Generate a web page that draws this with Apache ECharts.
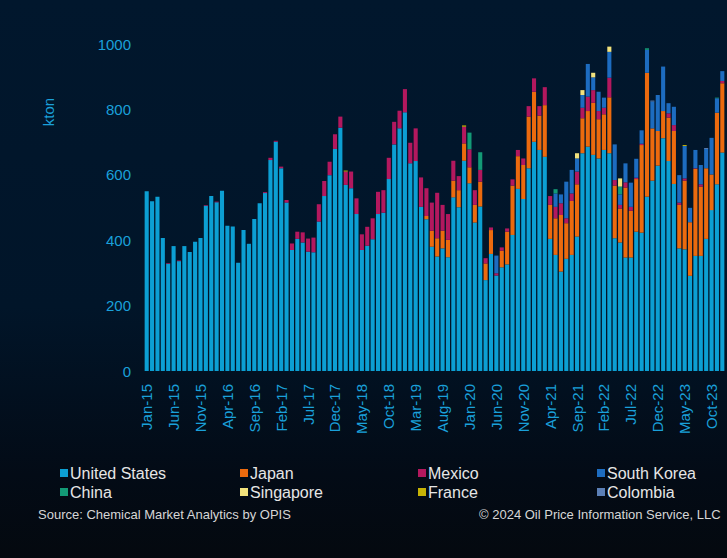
<!DOCTYPE html>
<html lang="en">
<head>
	<meta charset="UTF-8">
	<title>Imports by origin</title>
	<script type="text/javascript" src="https://cdn.jsdelivr.net/npm/echarts@6/dist/echarts.min.js"></script>
	<style>
		html, body { margin: 0; padding: 0; }
		body { width: 727px; height: 558px; overflow: hidden;
			background: linear-gradient(180deg, #01172d 0%, #011529 55%, #030b16 85%, #04090f 100%); }
		#chart_show { width: 727px; height: 558px; }
	</style>
</head>
<body>
	<div id="chart_show"></div>
	<script>
		// monthly categories Jan-15 .. Dec-23
		var months = [
			'Jan-15','Feb-15','Mar-15','Apr-15','May-15','Jun-15','Jul-15','Aug-15','Sep-15','Oct-15','Nov-15','Dec-15',
			'Jan-16','Feb-16','Mar-16','Apr-16','May-16','Jun-16','Jul-16','Aug-16','Sep-16','Oct-16','Nov-16','Dec-16',
			'Jan-17','Feb-17','Mar-17','Apr-17','May-17','Jun-17','Jul-17','Aug-17','Sep-17','Oct-17','Nov-17','Dec-17',
			'Jan-18','Feb-18','Mar-18','Apr-18','May-18','Jun-18','Jul-18','Aug-18','Sep-18','Oct-18','Nov-18','Dec-18',
			'Jan-19','Feb-19','Mar-19','Apr-19','May-19','Jun-19','Jul-19','Aug-19','Sep-19','Oct-19','Nov-19','Dec-19',
			'Jan-20','Feb-20','Mar-20','Apr-20','May-20','Jun-20','Jul-20','Aug-20','Sep-20','Oct-20','Nov-20','Dec-20',
			'Jan-21','Feb-21','Mar-21','Apr-21','May-21','Jun-21','Jul-21','Aug-21','Sep-21','Oct-21','Nov-21','Dec-21',
			'Jan-22','Feb-22','Mar-22','Apr-22','May-22','Jun-22','Jul-22','Aug-22','Sep-22','Oct-22','Nov-22','Dec-22',
			'Jan-23','Feb-23','Mar-23','Apr-23','May-23','Jun-23','Jul-23','Aug-23','Sep-23','Oct-23','Nov-23','Dec-23'
		];

		var unitedStates = [
			550,519,533,407,328,382,336,382,364,395,407,505,
			535,516,551,444,442,331,431,389,465,513,544,645,
			701,620,515,370,404,393,365,363,457,535,599,679,
			744,569,559,480,370,383,403,480,484,587,693,742,
			791,635,642,502,464,380,350,375,348,531,501,643,
			574,454,503,278,358,292,317,326,416,557,526,620,
			701,676,655,404,355,304,343,355,411,666,686,661,
			650,676,666,406,393,347,347,426,423,533,582,628,
			712,642,572,375,372,291,352,352,404,492,571,668
		];
		var japan = [
			0,0,0,0,0,0,0,0,0,0,0,0,
			0,0,0,0,0,0,0,0,0,0,0,0,
			0,0,0,0,0,0,0,0,0,0,0,0,
			0,0,0,0,0,0,0,0,0,0,0,0,
			0,0,0,0,10,49,56,54,53,51,52,53,
			49,54,76,51,73,0,51,100,151,100,104,158,
			153,105,158,104,112,173,109,165,160,107,109,159,
			120,109,171,161,104,214,143,161,268,379,160,106,
			83,133,162,133,210,164,266,212,216,109,219,212
		];
		var mexico = [
			0,0,0,0,2,0,2,0,0,0,0,2,
			0,2,0,0,0,0,0,0,0,0,3,7,
			3,5,8,20,22,31,40,45,53,46,41,45,
			34,41,51,48,48,58,64,68,69,65,69,54,
			71,63,100,90,85,86,139,79,79,61,43,51,
			55,45,36,16,8,7,10,10,19,19,20,32,
			41,29,55,27,35,36,15,23,39,32,44,39,
			25,20,60,17,11,16,12,4,4,0,0,0,
			0,13,18,7,7,0,2,7,0,0,0,7
		];
		var southKorea = [
			0,0,0,0,0,0,0,0,0,0,0,0,
			0,0,0,0,0,0,0,0,0,0,0,0,
			0,0,0,0,0,0,0,0,0,0,0,0,
			0,0,0,0,0,0,0,0,0,0,0,0,
			0,0,0,0,0,0,0,0,0,0,0,0,
			0,0,0,0,0,54,0,0,0,0,0,0,
			0,0,0,0,41,27,112,72,40,39,100,39,
			59,31,79,109,32,58,74,58,41,70,82,110,
			136,31,56,84,99,44,56,59,59,112,44,30
		];
		var china = [
			0,0,0,0,0,0,0,0,0,0,0,0,
			0,0,0,0,0,0,0,0,0,0,0,0,
			0,0,0,0,0,0,0,0,0,0,0,0,
			0,0,0,0,0,0,0,0,0,0,0,0,
			0,0,0,0,0,0,0,0,0,0,0,0,
			51,0,54,0,0,0,0,0,0,0,0,0,
			0,0,0,0,13,0,0,0,0,0,0,0,
			0,0,0,0,24,0,0,0,0,5,0,0,
			0,0,0,0,0,0,0,0,0,0,2,0
		];
		var singapore = [
			0,0,0,0,0,0,0,0,0,0,0,0,
			0,0,0,0,0,0,0,0,0,0,0,0,
			0,0,0,0,0,0,0,0,0,0,0,0,
			0,0,0,0,0,0,0,0,0,0,0,0,
			0,0,0,0,0,0,0,0,0,0,0,0,
			0,0,0,0,0,0,0,0,0,0,0,0,
			0,0,0,0,0,0,0,0,16,15,0,14,
			0,0,16,0,25,0,0,0,0,0,0,0,
			0,0,0,0,0,0,0,0,0,0,0,0
		];
		var france = [
			0,0,0,0,0,0,0,0,0,0,0,0,
			0,0,0,0,0,0,0,0,0,0,0,0,
			0,0,0,0,0,0,0,0,0,0,0,0,
			0,3,0,0,0,0,0,0,0,0,0,0,
			0,0,0,0,0,0,0,0,0,0,0,4,
			0,0,0,0,0,0,0,0,0,0,0,0,
			0,0,0,0,0,0,0,0,0,0,0,0,
			0,0,0,0,0,0,0,0,0,0,0,0,
			0,0,0,0,3,0,0,0,0,0,0,0
		];
		var colombia = [
			0,0,0,0,0,0,0,0,0,0,0,0,
			0,0,0,0,0,0,0,0,0,0,0,0,
			0,0,0,0,0,0,0,0,0,0,0,0,
			0,0,0,0,0,0,0,0,0,0,0,0,
			0,0,0,0,0,0,0,0,0,0,0,0,
			0,0,0,0,0,0,0,0,0,0,0,0,
			0,0,0,0,0,0,0,0,0,0,0,0,
			0,0,0,0,0,0,0,0,0,0,3,0,
			0,0,0,0,0,0,0,0,3,0,0,0
		];

		var yTicks = [0, 200, 400, 600, 800, 1000];

		var countryNames = ['United States','Japan','Mexico','South Korea','China','Singapore','France','Colombia'];
		var countryData = [unitedStates, japan, mexico, southKorea, china, singapore, france, colombia];
		var countryColors = ['#0c9fd3','#ec6a0e','#b3185e','#1d6cc0','#139a76','#f2e27c','#c6b305','#5b7fb6'];

		var cyan = '#1aa0da';
		var font = 'Liberation Sans, Arial, sans-serif';

		var oChart = echarts.init(document.getElementById('chart_show'), null, {renderer: 'svg'});

		var series = [];
		for (var i = 0; i < countryNames.length; i++) {
			series.push({
				name: countryNames[i],
				type: 'bar',
				stack: 'total',
				barCategoryGap: '24%',
				itemStyle: {color: countryColors[i]},
				data: countryData[i]
			});
		}

		function legendCol(left, names) {
			return {
				orient: 'vertical',
				left: left,
				top: 460,
				itemWidth: 8,
				itemHeight: 8,
				itemGap: 3,
				icon: 'rect',
				data: names,
				textStyle: {color: '#e6e6e6', fontSize: 16, fontFamily: font, padding: [0, 0, 0, -3]}
			};
		}

		var chartopt = {
			backgroundColor: 'transparent',
			animation: false,
			grid: {left: 144, top: 44, width: 581, height: 327, containLabel: false},
			legend: [
				legendCol(55, ['United States', 'China']),
				legendCol(235, ['Japan', 'Singapore']),
				legendCol(413, ['Mexico', 'France']),
				legendCol(592, ['South Korea', 'Colombia'])
			],
			xAxis: {
				type: 'category',
				data: months,
				axisLine: {show: false},
				axisTick: {show: false},
				axisLabel: {
					interval: 4,
					rotate: 90,
					margin: 13,
					color: cyan,
					fontSize: 15,
					fontFamily: font
				}
			},
			yAxis: {
				type: 'value',
				min: yTicks[0],
				max: yTicks[yTicks.length - 1],
				interval: 200,
				splitLine: {show: false},
				axisLine: {show: false},
				axisTick: {show: false},
				axisLabel: {color: cyan, fontSize: 15, fontFamily: font, margin: 13,
					formatter: function (v) { return String(v); }}
			},
			graphic: [
				{
					type: 'text',
					x: 48, y: 112,
					rotation: Math.PI / 2,
					style: {text: 'kton', fill: cyan, font: '15px ' + font, textAlign: 'center', textVerticalAlign: 'middle'}
				},
				{
					type: 'text',
					x: 38, y: 508,
					style: {text: 'Source: Chemical Market Analytics by OPIS', fill: '#d6d6d6', font: '13px ' + font}
				},
				{
					type: 'text',
					x: 479, y: 508,
					style: {text: '\u00a9 2024 Oil Price Information Service, LLC', fill: '#d6d6d6', font: '13px ' + font}
				}
			],
			series: series
		};

		oChart.setOption(chartopt);
	</script>
</body>
</html>
